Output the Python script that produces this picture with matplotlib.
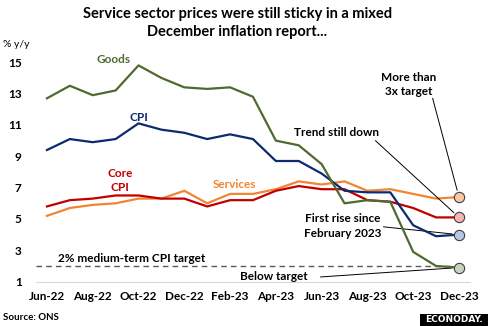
import matplotlib
matplotlib.use("Agg")
import matplotlib.pyplot as plt
from matplotlib.patches import Rectangle

plt.rcParams['font.family'] = ['Lato', 'DejaVu Sans']

months = ["Jun-22", "Jul-22", "Aug-22", "Sep-22", "Oct-22", "Nov-22", "Dec-22",
          "Jan-23", "Feb-23", "Mar-23", "Apr-23", "May-23", "Jun-23", "Jul-23",
          "Aug-23", "Sep-23", "Oct-23", "Nov-23", "Dec-23"]
goods = [12.7, 13.5, 12.9, 13.2, 14.8, 14.0, 13.4, 13.3, 13.4, 12.8,
         10.0, 9.7, 8.5, 6.0, 6.2, 6.1, 2.9, 2.0, 1.9]
cpi = [9.4, 10.1, 9.9, 10.1, 11.1, 10.7, 10.5, 10.1, 10.4, 10.1,
       8.7, 8.7, 7.9, 6.8, 6.7, 6.7, 4.6, 3.9, 4.0]
core = [5.8, 6.2, 6.3, 6.5, 6.5, 6.3, 6.3, 5.8, 6.2, 6.2,
        6.8, 7.1, 6.9, 6.9, 6.2, 6.1, 5.7, 5.1, 5.1]
services = [5.2, 5.7, 5.9, 6.0, 6.3, 6.3, 6.8, 6.0, 6.6, 6.6,
            6.9, 7.4, 7.2, 7.4, 6.8, 6.9, 6.6, 6.3, 6.4]
target = 2.0
yticks = [1, 3, 5, 7, 9, 11, 13, 15]

C_GOODS = "#4F6A2E"
C_CPI = "#0B2A6F"
C_CORE = "#C00000"
C_SERV = "#F08532"

x = list(range(len(months)))
last = x[-1]

fig = plt.figure(figsize=(4.89, 3.26), dpi=100)
ax = fig.add_axes([0.0726, 0.136, 0.8894, 0.673])

ax.plot(x, services, color=C_SERV, lw=1.6, zorder=3)
ax.plot(x, core, color=C_CORE, lw=1.6, zorder=3)
ax.plot(x, cpi, color=C_CPI, lw=1.6, zorder=4)
ax.plot(x, goods, color=C_GOODS, lw=1.6, zorder=4)

# medium-term target line
ax.plot([-0.5, last - 0.2], [target, target], color="#595959", lw=1.0,
        ls=(0, (4, 3)), zorder=2)

# highlighted latest readings
fills = [(services, "#F8C9A6"), (core, "#F4B4B4"), (cpi, "#B6C6E4"), (goods, "#C8D5BE")]
for series, fc in fills:
    ax.scatter([last], [series[-1]], s=55, facecolor=fc, edgecolor="#404040",
               linewidth=0.8, zorder=6)

ax.set_xlim(-0.5, 18.5)
ax.set_ylim(1, 15)
ax.set_yticks(yticks)
ax.set_yticklabels([str(v) for v in yticks], fontsize=8.5, fontweight="bold")
ax.set_xticks(x[::2])
ax.set_xticklabels(months[::2], fontsize=8.5, fontweight="bold")
ax.tick_params(length=0)
ax.tick_params(axis="y", pad=10)
ax.tick_params(axis="x", pad=7)
for side in ["left", "right", "top"]:
    ax.spines[side].set_visible(False)
ax.spines["bottom"].set_color("#D9D9D9")

lab = dict(fontsize=8.5, fontweight="bold", ha="center", va="center")
ax.text(2.9, 15.15, "Goods", color=C_GOODS, clip_on=False, **lab)
ax.text(4.0, 11.5, "CPI", color=C_CPI, **lab)
ax.text(3.2, 7.45, "Core\nCPI", color=C_CORE, linespacing=1.35, **lab)
ax.text(8.2, 7.2, "Services", color=C_SERV, **lab)
ax.text(3.7, 2.45, "2% medium-term CPI target", color="black", **lab)

line = dict(arrowstyle="-", color="black", lw=0.7, shrinkA=0, shrinkB=5)
ax.text(15.8, 13.6, "More than\n3x target", color="black", linespacing=1.35, **lab)
ax.annotate("", xy=(last, services[-1]), xytext=(16.85, 12.7), arrowprops=line)
ax.text(12.65, 10.55, "Trend still down", color="black", **lab)
ax.annotate("", xy=(last, core[-1]), xytext=(14.35, 10.0), arrowprops=line)
ax.text(12.9, 4.55, "First rise since\nFebruary 2023", color="black",
        linespacing=1.35, **lab)
ax.annotate("", xy=(last, cpi[-1]), xytext=(14.7, 4.5), arrowprops=line)
ax.text(9.9, 1.3, "Below target", color="black", clip_on=False, **lab)
ax.annotate("", xy=(last, goods[-1]), xytext=(11.95, 1.3), arrowprops=line)

fig.text(0.485, 1 - 23 / 326, "Service sector prices were still sticky in a mixed\nDecember inflation report...",
         ha="center", va="center", fontsize=10.5, fontweight="bold", linespacing=1.35)
fig.text(0.006, 0.862, "% y/y", fontsize=7.5, ha="left", va="center")
fig.text(0.006, 0.025, "Source: ONS", fontsize=7, fontweight="bold", ha="left", va="center")

fig.patches.append(Rectangle((420 / 489, 0), 69 / 489, 12 / 326, transform=fig.transFigure,
                             facecolor="black", edgecolor="none"))
fig.text(454 / 489, 6 / 326, "ECONODAY.", color="white", fontsize=6.5,
         fontweight="bold", ha="center", va="center", family="DejaVu Sans")

fig.savefig("out.png", dpi=100)
